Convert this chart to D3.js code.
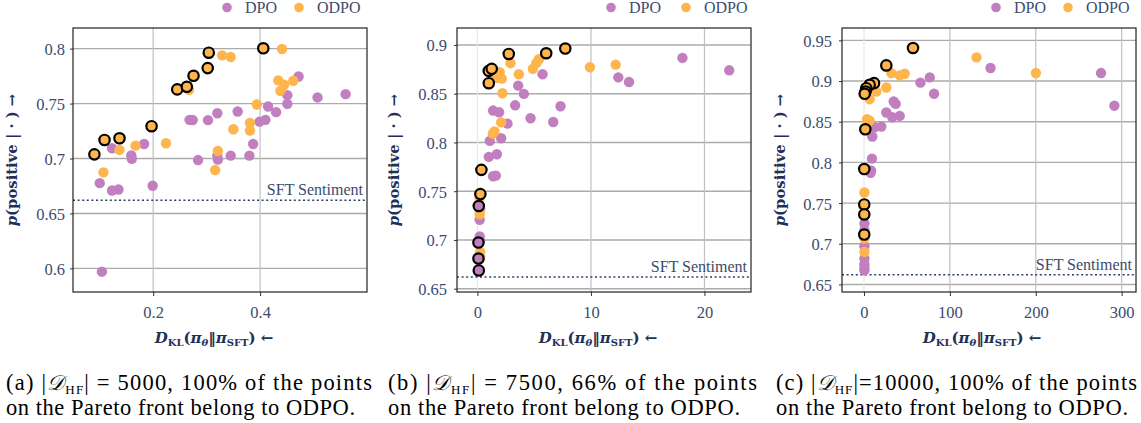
<!DOCTYPE html>
<html><head><meta charset="utf-8">
<script src="https://cdn.jsdelivr.net/npm/d3@7"></script>
<style>
body{margin:0;background:#fff} svg{display:block}
text{font-family:"Liberation Serif","Times New Roman",Times,serif}
text.lab{font-family:"DejaVu Serif",serif;font-weight:bold}
</style>
</head><body>
<svg id="chart" width="1141" height="423"></svg>
<script>
// ---------- DATA ----------
const seriesNames = ["DPO", "ODPO"];
const sftSentiment = 0.662;

// Panel (a) |D_HF| = 5000
const dpoA = [[0.104,0.597],[0.100,0.6776],[0.123,0.6709],[0.135,0.6718],[0.123,0.7093],[0.159,0.7029],[0.160,0.6998],[0.183,0.7132],[0.199,0.6752],[0.268,0.7352],[0.274,0.7350],[0.3025,0.7349],[0.320,0.7412],[0.358,0.7428],[0.284,0.6986],[0.320,0.7029],[0.321,0.699],[0.345,0.7026],[0.380,0.7026],[0.387,0.7132],[0.399,0.7336],[0.410,0.7352],[0.415,0.7473],[0.430,0.7422],[0.451,0.7577],[0.451,0.7498],[0.472,0.7747],[0.5075,0.7556],[0.560,0.7586]];
const odpoA = [[0.107,0.6874],[0.137,0.7078],[0.167,0.7117],[0.224,0.7139],[0.267,0.7626],[0.329,0.7939],[0.345,0.7924],[0.441,0.7997],[0.350,0.7266],[0.321,0.7068],[0.316,0.6895],[0.394,0.7492],[0.381,0.7324],[0.381,0.7254],[0.434,0.7711],[0.445,0.7671],[0.438,0.7616],[0.462,0.7708]];
const paretoOdpoA = [[0.090,0.7038],[0.109,0.7169],[0.137,0.7184],[0.197,0.7294],[0.245,0.7629],[0.263,0.7653],[0.2755,0.7753],[0.302,0.7823],[0.304,0.7963],[0.406,0.8003]];
const paretoDpoA = [];
const xTicksA = [0.2, 0.4];
const yTicksA = [0.6, 0.65, 0.7, 0.75, 0.8];

// Panel (b) |D_HF| = 7500
const dpoB = [[18.06,0.8867],[22.18,0.874],[12.41,0.8668],[13.35,0.862],[5.74,0.870],[3.59,0.8583],[4.09,0.8498],[3.32,0.8381],[4.68,0.8248],[6.68,0.821],[7.32,0.8371],[1.38,0.8327],[1.91,0.831],[2.65,0.8193],[2.09,0.8043],[1.09,0.8016],[1.0,0.7852],[1.71,0.7879],[1.38,0.7653],[1.62,0.766],[0.25,0.7317],[0.2,0.7207],[0.2,0.7036],[0.22,0.7000]];
const odpoB = [[2.91,0.8813],[1.97,0.872],[2.15,0.8655],[1.65,0.866],[2.2,0.8505],[3.65,0.870],[4.88,0.8755],[5.18,0.8813],[5.41,0.8853],[9.91,0.8771],[12.18,0.8798],[2.09,0.8206],[1.5,0.8114],[1.35,0.809],[0.18,0.7433],[0.2,0.7296],[0.2,0.7262],[0.24,0.6877],[0.24,0.6836],[0.2,0.6802]];
const paretoOdpoB = [[2.76,0.8908],[6.06,0.8915],[7.74,0.8963],[1.0,0.8734],[1.26,0.8755],[1.0,0.8608],[0.35,0.7719],[0.26,0.747]];
const paretoDpoB = [[0.12,0.7348],[0.09,0.6973],[0.09,0.6809],[0.12,0.6687]];
const xTicksB = [0, 10, 20];
const yTicksB = [0.65, 0.7, 0.75, 0.8, 0.85, 0.9];

// Panel (c) |D_HF| = 10000
const dpoC = [[276,0.9098],[291.5,0.8697],[147.3,0.916],[76.6,0.9045],[65.7,0.898],[81.6,0.8844],[34.6,0.8748],[36.9,0.8719],[26,0.8613],[33,0.8555],[41.6,0.8571],[20.2,0.844],[12.4,0.8432],[9.7,0.8317],[9.3,0.8046],[7.8,0.7873],[8.2,0.790],[0.5,0.7249],[0.5,0.7166],[0.5,0.697],[0.5,0.6817],[0.5,0.675],[0.5,0.6706],[0.5,0.6673]];
const odpoC = [[131,0.9291],[200.2,0.9098],[31.9,0.9097],[41.6,0.9069],[47.4,0.909],[26,0.8921],[14.4,0.8871],[6.6,0.8777],[3.5,0.853],[6.6,0.8514],[0.5,0.763],[0.5,0.69],[0.5,0.7064]];
const paretoOdpoC = [[57.1,0.9406],[26.0,0.9192],[11.7,0.8974],[6.6,0.8954],[2.7,0.8912],[1.9,0.8871],[0.8,0.8843],[1.55,0.8407],[0.3,0.7918],[0.3,0.7483],[0.3,0.736],[0.3,0.7113]];
const paretoDpoC = [];
const xTicksC = [0, 100, 200, 300];
const yTicksC = [0.65, 0.7, 0.75, 0.8, 0.85, 0.9, 0.95];

const captionTags = ["(a)", "(b)", "(c)"];
const datasetSizes = ["5000", "7500", "10000"];
const paretoShares = ["100%", "66%", "100%"];

// ---------- STYLE / LAYOUT ----------
const C_DPO = "#c27fc0", C_ODPO = "#ffb54d";
const TXT = "#3d4b6e", LAB = "#1f3158", SFT = "#2c3d66";

const panels = [
  {box:[73,367,28,292], xDom:[0.05,0.6], yDom:[0.5785,0.8188], xT:xTicksA, yT:yTicksA, dpo:dpoA, odpo:odpoA, pO:paretoOdpoA, pD:paretoDpoA, leg:[227,299], yl:17, xl:214, ypad:5, cx:6, w1:366, w2:349, sep:" = "},
  {box:[457,751,28,292], xDom:[-1.8,24.1], yDom:[0.6466,0.9174], xT:xTicksB, yT:yTicksB, dpo:dpoB, odpo:odpoB, pO:paretoOdpoB, pD:paretoDpoB, leg:[611,686], yl:399, xl:598, ypad:7, cx:388, w1:369, w2:352, sep:" = "},
  {box:[842,1136,28,292], xDom:[-25.6,316.7], yDom:[0.6407,0.9652], xT:xTicksC, yT:yTicksC, dpo:dpoC, odpo:odpoC, pO:paretoOdpoC, pD:paretoDpoC, leg:[996,1068], yl:785, xl:982, ypad:7, cx:776, w1:361, w2:352, sep:"="}
];

const svg = d3.select("#chart");
const fmt = d => String(+d.toFixed(3));

panels.forEach((p, i) => {
  const [x0,x1,y0,y1] = p.box;
  const x = d3.scaleLinear().domain(p.xDom).range([x0,x1]);
  const y = d3.scaleLinear().domain(p.yDom).range([y1,y0]);
  const g = svg.append("g");

  // gridlines
  g.selectAll(".hg").data(p.yT).join("line")
    .attr("x1",x0).attr("x2",x1).attr("y1",d=>y(d)).attr("y2",d=>y(d))
    .attr("stroke","#ababab").attr("stroke-width",1.4);
  g.selectAll(".vg").data(p.xT).join("line")
    .attr("y1",y0).attr("y2",y1).attr("x1",d=>x(d)).attr("x2",d=>x(d))
    .attr("stroke",d=>d===0?"#e6e6e6":"#c0c0c0").attr("stroke-width",1.2);

  // SFT line
  g.append("line").attr("x1",x0).attr("x2",x1).attr("y1",y(sftSentiment)).attr("y2",y(sftSentiment))
    .attr("stroke",SFT).attr("stroke-width",1.5).attr("stroke-dasharray","2,2.6");
  g.append("text").attr("x",x1-4).attr("y",y(sftSentiment)-5).attr("text-anchor","end")
    .attr("font-size",16).attr("fill",TXT).text("SFT Sentiment");

  // axes
  const ax = g.append("g").attr("transform",`translate(0,${y1})`)
    .call(d3.axisBottom(x).tickValues(p.xT).tickFormat(fmt).tickSize(4).tickPadding(10));
  const ay = g.append("g").attr("transform",`translate(${x0},0)`)
    .call(d3.axisLeft(y).tickValues(p.yT).tickFormat(fmt).tickSize(3).tickPadding(p.ypad));
  [ax,ay].forEach(a=>{
    a.attr("font-family",null);
    a.select(".domain").remove();
    a.selectAll("line").attr("stroke","#333");
    a.selectAll("text").attr("font-size",16.5).attr("fill",TXT);
  });
  ay.selectAll("text").attr("dy","0.36em");

  // points
  const dot = (data, col, pareto) => g.append("g").selectAll("circle").data(data).join("circle")
    .attr("cx",d=>x(d[0])).attr("cy",d=>y(d[1])).attr("r",5.2)
    .attr("fill",col)
    .attr("stroke",pareto?"#000":"none").attr("stroke-width",pareto?2.2:0);
  dot(p.dpo, C_DPO, false);
  dot(p.odpo, C_ODPO, false);
  dot(p.pD, C_DPO, true);
  dot(p.pO, C_ODPO, true);

  // frame
  g.append("rect").attr("x",x0).attr("y",y0).attr("width",x1-x0).attr("height",y1-y0)
    .attr("fill","none").attr("stroke","#222").attr("stroke-width",1.2);

  // legend
  seriesNames.forEach((s,k)=>{
    const lx = p.leg[k];
    g.append("circle").attr("cx",lx).attr("cy",7.5).attr("r",4.8).attr("fill",k?C_ODPO:C_DPO);
    g.append("text").attr("x",lx+18).attr("y",13).attr("font-size",16)
      .attr("fill",TXT).text(s);
  });

  // y label
  const yl = g.append("text").attr("class","lab").attr("transform",`translate(${p.yl},160) rotate(-90)`)
    .attr("text-anchor","middle").attr("font-size",14.8).attr("fill",LAB);
  yl.append("tspan").attr("font-style","italic").text("p");
  yl.append("tspan").text("(positive | · ) →");

  // x label
  const xl = g.append("text").attr("class","lab").attr("x",p.xl).attr("y",343).attr("text-anchor","middle")
    .attr("font-size",15).attr("fill",LAB);
  xl.append("tspan").attr("font-style","italic").text("D");
  xl.append("tspan").attr("font-size",10).attr("dy",3).text("KL");
  xl.append("tspan").attr("dy",-3).text("(");
  xl.append("tspan").attr("font-style","italic").text("π");
  xl.append("tspan").attr("font-size",10).attr("font-style","italic").attr("dy",3).text("θ");
  xl.append("tspan").attr("dy",-3).text("‖");
  xl.append("tspan").attr("font-style","italic").text("π");
  xl.append("tspan").attr("font-size",10).attr("dy",3).text("SFT");
  xl.append("tspan").attr("dy",-3).text(") ←");

  // caption
  const c1 = g.append("text").attr("x",p.cx).attr("y",389.5).attr("font-size",22.5)
    .attr("fill","#000").attr("textLength",p.w1).attr("lengthAdjust","spacing");
  c1.append("tspan").text(captionTags[i]+" |");
  c1.append("tspan").attr("font-style","italic").attr("font-size",21).text("𝒟");
  c1.append("tspan").attr("font-size",13).attr("dy",4).text("HF");
  c1.append("tspan").attr("dy",-4).text("|"+p.sep+datasetSizes[i]+", "+paretoShares[i]+" of the points");
  g.append("text").attr("x",p.cx).attr("y",414.5).attr("font-size",22.5)
    .attr("fill","#000").attr("textLength",p.w2).attr("lengthAdjust","spacing")
    .text("on the Pareto front belong to ODPO.");
});
</script>
</body></html>
